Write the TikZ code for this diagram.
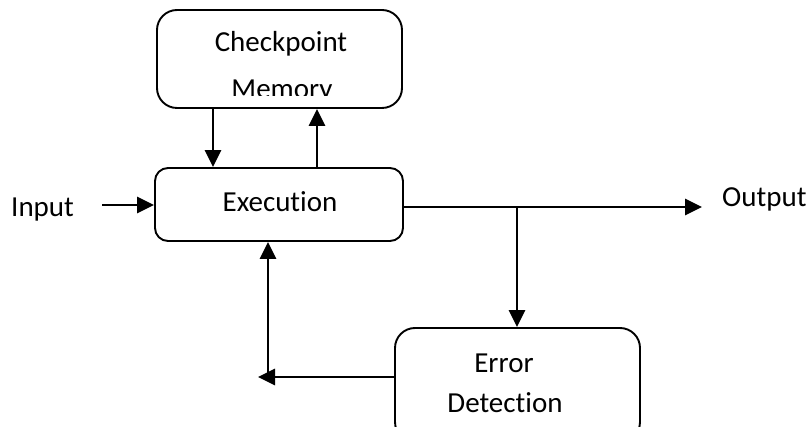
\documentclass[tikz,border=0pt]{standalone}
\usepackage{fontspec}
\setmainfont{Carlito}[Ligatures=CommonOff]
\usetikzlibrary{arrows.meta}
\begin{document}
\begin{tikzpicture}[x=1pt,y=-1pt,
  box/.style={draw,line width=1.9pt,inner sep=0pt},
  lbl/.style={inner sep=0pt,font=\fontsize{29}{35}\selectfont},
  arr/.style={line width=2.7pt,-{Triangle[length=17pt,width=16pt]}},
  ln/.style={line width=2.7pt}]
\useasboundingbox (0,0) rectangle (809,427);
\clip (0,0) rectangle (809,427);
% boxes
\node[box,rounded corners=20pt,minimum width=245pt,minimum height=98pt] (cp) at (279.5,59) {};
\node[box,rounded corners=13pt,minimum width=248pt,minimum height=73pt] (ex) at (279,204.5) {};
\node[box,rounded corners=20pt,minimum width=245pt,minimum height=114pt] (er) at (517.5,385) {};
% texts
\node[lbl,anchor=base] (cpt1) at (281,52) {Checkpoint};
\begin{scope}
\clip (157,10) rectangle (402,96);
\node[lbl,anchor=base] (cpt2) at (282,99) {Memory};
\end{scope}
\node[lbl,anchor=base] (ext) at (280,212) {Execution};
\node[lbl,anchor=base west] (inp) at (11,217) {Input};
\node[lbl,anchor=base west] (outp) at (722,207) {Output};
\node[lbl,anchor=base] (ert1) at (504,373) {Error};
\node[lbl,anchor=base] (ert2) at (505,413) {Detection};
% coordinates
\coordinate (inS) at (102,205);
\coordinate (dn) at (213,0);
\coordinate (up) at (317,0);
\coordinate (outE) at (702,207);
\coordinate (br) at (517,207);
\coordinate (fbE) at (258,377);
\coordinate (fbV) at (268,377);
% connectors
\draw[arr] (inS) -- (inS -| ex.west);
\draw[arr] (cp.south -| dn) -- (ex.north -| dn);
\draw[arr] (ex.north -| up) -- (cp.south -| up);
\draw[arr] (ex.east |- outE) -- (outE);
\draw[arr] (br) -- (er.north -| br);
\draw[arr] (er.west |- fbE) -- (fbE);
\draw[arr] (fbV) -- (ex.south -| fbV);
\end{tikzpicture}
\end{document}
